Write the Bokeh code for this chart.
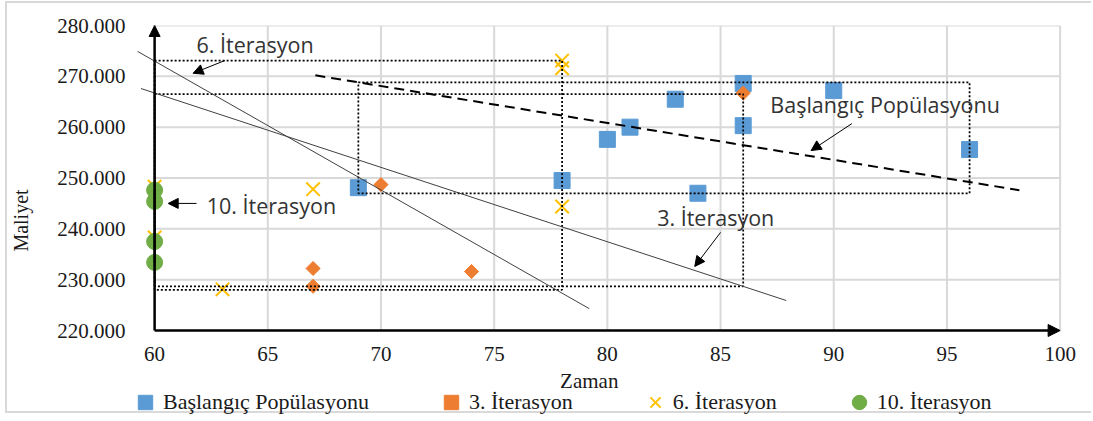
import numpy as np
from bokeh.plotting import figure
from bokeh.models import (FixedTicker, Arrow, NormalHead, Label, Legend,
                          LegendItem, Range1d)
from bokeh.core.properties import value
from bokeh.embed import file_html
from bokeh.resources import INLINE

# ---------------- data ----------------
SERIES_NAMES = ["Başlangıç Popülasyonu", "3. İterasyon", "6. İterasyon", "10. İterasyon"]

BASE_X = [69, 78, 80, 81, 83, 84, 86, 86, 90, 96]
BASE_Y = [248100, 249500, 257600, 260000, 265500, 247000, 268600, 260300, 267200, 255600]

IT3_X = [67, 67, 70, 74, 86]
IT3_Y = [232200, 228700, 248700, 231600, 266700]

IT6_X = [60, 60, 63, 67, 78, 78, 78]
IT6_Y = [248300, 238300, 228100, 247800, 273100, 271600, 244400]

IT10_X = [60, 60, 60, 60]
IT10_Y = [247600, 245400, 237500, 233400]

# trend lines (end points)
TREND_BASE_X = [67.1, 98.2]
TREND_BASE_Y = [270200, 247600]
TREND_IT3_X = [59.4, 87.9]
TREND_IT3_Y = [267600, 225900]
TREND_IT6_X = [59.25, 79.2]
TREND_IT6_Y = [274900, 224300]

# dotted boxes around each population (base, it3, it6, it10)
BOX_LEFT = [69, 60, 60, 60]
BOX_RIGHT = [96, 86, 78, 60]
BOX_BOTTOM = [247000, 228700, 228000, 233400]
BOX_TOP = [268800, 266500, 273100, 247600]

X_TICKS = [60, 65, 70, 75, 80, 85, 90, 95, 100]
X_TICK_LABELS = ["60", "65", "70", "75", "80", "85", "90", "95", "100"]
Y_TICKS = [220000, 230000, 240000, 250000, 260000, 270000, 280000]
Y_TICK_LABELS = ["220.000", "230.000", "240.000", "250.000", "260.000", "270.000", "280.000"]

X_TITLE = "Zaman"
Y_TITLE = "Maliyet"

# ---------------- figure ----------------
SERIF = "Liberation Serif"
SANS = "Open Sans"
GRID = "#D9D9D9"
INK = "#1a1a1a"

# the frame reaches down to the legend row, so the x axis row and the legend
# are drawn inside it (below the 220.000 line)
p = figure(width=1086, height=412,
           x_range=Range1d(59.2, 100.9), y_range=Range1d(203280, 280000),
           x_axis_location=None,
           output_backend="svg", toolbar_location=None,
           min_border_left=126, min_border_right=13,
           min_border_top=22, min_border_bottom=0)
p.styles = {"border-left": "2px solid #D9D9D9", "border-top": "2px solid #D9D9D9",
            "border-bottom": "2px solid #D9D9D9", "margin-left": "5px", "margin-top": "1px"}
p.outline_line_color = None
p.xgrid.visible = False
p.ygrid.visible = False

# grid lines, limited to the plot area 60..100 x 220.000..280.000
p.segment(x0=X_TICKS[0], x1=X_TICKS[-1], y0=Y_TICKS[1:], y1=Y_TICKS[1:],
          line_color=GRID, line_width=2)
p.segment(x0=X_TICKS[1:], x1=X_TICKS[1:], y0=Y_TICKS[0], y1=Y_TICKS[-1],
          line_color=GRID, line_width=2)

# y axis
yax = p.yaxis[0]
yax.ticker = FixedTicker(ticks=Y_TICKS)
yax.major_label_overrides = {t: s for t, s in zip(Y_TICKS, Y_TICK_LABELS)}
yax.axis_line_color = None
yax.major_tick_line_color = None
yax.minor_tick_line_color = None
yax.major_label_text_font = SERIF
yax.major_label_text_font_size = "21px"
yax.major_label_text_color = INK
yax.major_label_standoff = 5
yax.axis_label = Y_TITLE
yax.axis_label_standoff = 22
yax.axis_label_text_font = SERIF
yax.axis_label_text_font_style = "normal"
yax.axis_label_text_font_size = "20px"
yax.axis_label_text_color = INK

# x tick labels and title (row under the 220.000 line)
p.text(x=X_TICKS, y=[215280] * len(X_TICKS), text=X_TICK_LABELS,
       text_font=value(SERIF), text_font_size=value("21px"), text_color=INK,
       text_align="center", text_baseline="middle")
p.add_layout(Label(x=79.2, y=210160, text=X_TITLE, text_font=SERIF,
                   text_font_size="21px", text_color=INK,
                   text_align="center", text_baseline="middle"))

# markers
r_base = p.scatter(BASE_X, BASE_Y, marker="square", size=16, color="#5B9BD5")
r_it3 = p.scatter(IT3_X, IT3_Y, marker="square", angle=np.pi / 4, size=10, color="#ED7D31")
r_it6 = p.scatter(IT6_X, IT6_Y, marker="x", size=19, line_width=2, color="#FFC000")
r_it10 = p.scatter(IT10_X, IT10_Y, marker="circle", size=16, color="#70AD47")

# dotted boxes
p.quad(left=BOX_LEFT, right=BOX_RIGHT, bottom=BOX_BOTTOM, top=BOX_TOP,
       fill_color=None, line_color="black", line_dash="2 2", line_width=1.75)

# trend lines
p.line(TREND_IT6_X, TREND_IT6_Y, line_color="#404040", line_width=1)
p.line(TREND_IT3_X, TREND_IT3_Y, line_color="#404040", line_width=1)
p.line(TREND_BASE_X, TREND_BASE_Y, line_color="black", line_width=2, line_dash="10 6")

# axis arrows
p.add_layout(Arrow(x_start=X_TICKS[0], y_start=Y_TICKS[0], x_end=X_TICKS[0], y_end=Y_TICKS[-1],
                   line_width=2.5, line_color="black",
                   end=NormalHead(size=11, fill_color="black", line_color="black")))
p.add_layout(Arrow(x_start=X_TICKS[0], y_start=Y_TICKS[0], x_end=X_TICKS[-1], y_end=Y_TICKS[0],
                   line_width=2.5, line_color="black",
                   end=NormalHead(size=12, fill_color="black", line_color="black")))


# annotation arrows and texts
def note_arrow(x0, y0, x1, y1):
    p.add_layout(Arrow(x_start=x0, y_start=y0, x_end=x1, y_end=y1,
                       line_width=1, line_color="black",
                       end=NormalHead(size=10, fill_color="black", line_color="black")))


note_arrow(63.1, 273100, 61.7, 270600)
note_arrow(90.8, 260700, 89.0, 255400)
note_arrow(85.0, 239300, 83.86, 232600)
note_arrow(61.85, 245000, 60.6, 245000)


def note(text, x, y):
    p.add_layout(Label(x=x, y=y, text=text, text_font=SANS, text_font_size="21.5px",
                       text_color="#333333", text_align="left", text_baseline="middle"))


note(SERIES_NAMES[2], 61.85, 276300)
note(SERIES_NAMES[3], 62.3, 244600)
note(SERIES_NAMES[1], 82.2, 242200)
note(SERIES_NAMES[0], 87.2, 264500)

# legend (inside the frame, bottom row)
legend = Legend(items=[LegendItem(label=n, renderers=[r])
                       for n, r in zip(SERIES_NAMES, [r_base, r_it3, r_it6, r_it10])],
                orientation="horizontal", location=(-9, -5),
                label_text_font=SERIF, label_text_font_size="22px",
                label_text_color=INK,
                glyph_width=36, glyph_height=36, label_standoff=0,
                spacing=64, padding=0, margin=0,
                border_line_color=None, background_fill_alpha=0)
p.add_layout(legend)

open("out.html", "w", encoding="utf-8").write(file_html(p, INLINE))
